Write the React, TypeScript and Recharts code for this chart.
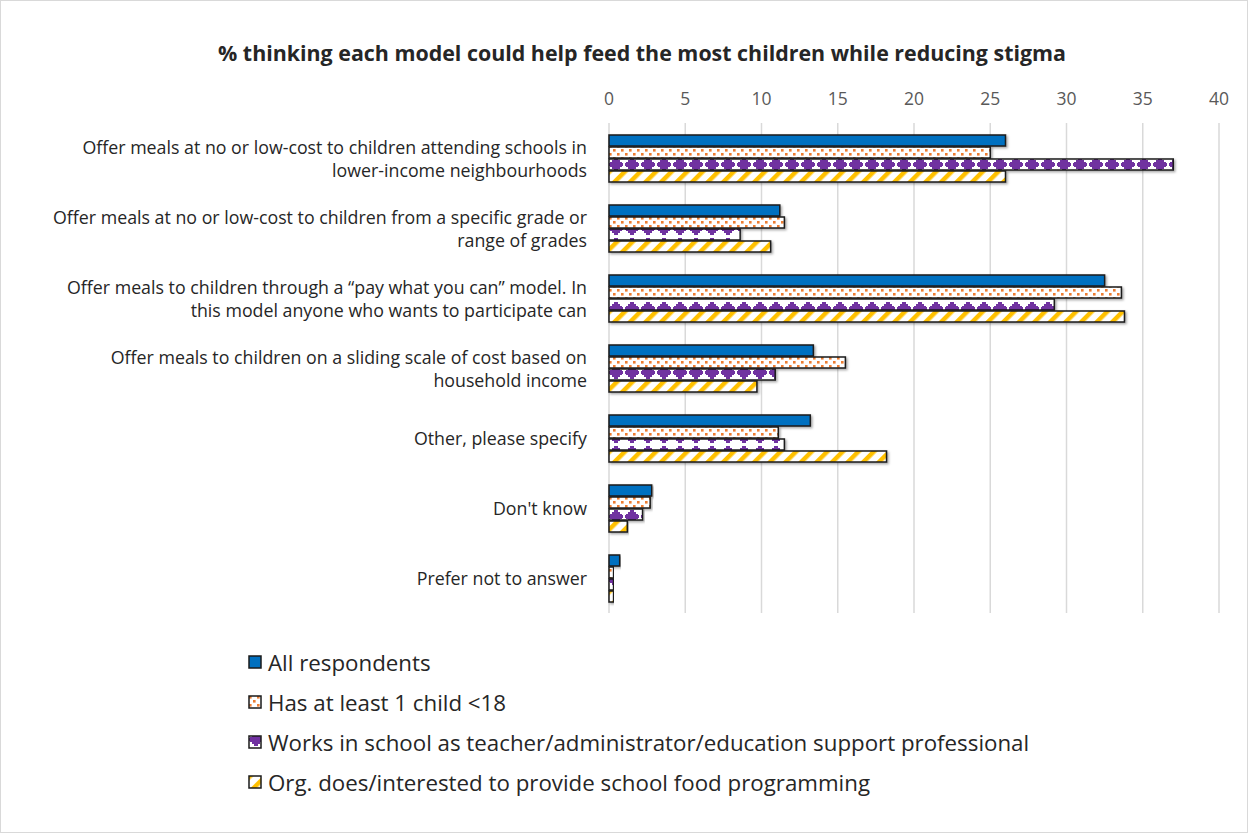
import React from 'react';
import { BarChart, Bar, XAxis, YAxis, CartesianGrid } from 'recharts';

const categoryLines: string[][] = [
  ['Offer meals at no or low-cost to children attending schools in', 'lower-income neighbourhoods'],
  ['Offer meals at no or low-cost to children from a specific grade or', 'range of grades'],
  ['Offer meals to children through a \u201cpay what you can\u201d model. In', 'this model anyone who wants to participate can'],
  ['Offer meals to children on a sliding scale of cost based on', 'household income'],
  ['Other, please specify'],
  ["Don't know"],
  ['Prefer not to answer'],
];

const allRespondents = [26.0, 11.2, 32.5, 13.4, 13.2, 2.8, 0.7];
const hasChild = [25.0, 11.5, 33.6, 15.5, 11.1, 2.7, 0.3];
const worksInSchool = [37.0, 8.6, 29.2, 10.9, 11.5, 2.2, 0.3];
const orgFood = [26.0, 10.6, 33.8, 9.7, 18.2, 1.2, 0.3];

const xTicks = [0, 5, 10, 15, 20, 25, 30, 35, 40];

const series = [
  { key: 'all', name: 'All respondents', fill: '#0070C0' },
  { key: 'child', name: 'Has at least 1 child <18', fill: 'url(#dots)' },
  { key: 'works', name: 'Works in school as teacher/administrator/education support professional', fill: 'url(#shingle)' },
  { key: 'org', name: 'Org. does/interested to provide school food programming', fill: 'url(#stripes)' },
];

const data = categoryLines.map((lines, i) => ({
  name: lines.join(' '),
  all: allRespondents[i],
  child: hasChild[i],
  works: worksInSchool[i],
  org: orgFood[i],
}));

const FONT = '"Open Sans", "Noto Sans", sans-serif';

const Patterns = () => (
  <svg width={0} height={0} style={{ position: 'absolute' }}>
    <defs>
      <pattern id="dots" width={8} height={8} patternUnits="userSpaceOnUse">
        <rect width={8} height={8} fill="#fff" />
        <rect x={1} y={1} width={2.6} height={2.6} fill="#ED7D31" />
        <rect x={5} y={5} width={2.6} height={2.6} fill="#ED7D31" />
      </pattern>
      {/* stepped diamonds, phased so the first group shows the upper halves */}
      <pattern id="shingle" x={0} y={12} width={16} height={16} patternUnits="userSpaceOnUse">
        <rect width={16} height={16} fill="#fff" />
        <polygon
          points="6,2 10,2 10,4 12,4 12,6 14,6 14,7 15,7 15,10 14,10 14,11 12,11 12,13 10,13 10,15 6,15 6,13 4,13 4,11 2,11 2,10 1,10 1,7 2,7 2,6 4,6 4,4 6,4"
          fill="#7030A0"
        />
      </pattern>
      <pattern id="stripes" width={11} height={11} patternUnits="userSpaceOnUse" patternTransform="rotate(45)">
        <rect width={11} height={11} fill="#fff" />
        <rect x={0} y={0} width={4.5} height={11} fill="#FFC000" />
      </pattern>
      <filter id="shadow" x="-5%" y="-30%" width="110%" height="170%">
        <feDropShadow dx={1.5} dy={1.5} stdDeviation={0.8} floodColor="#000" floodOpacity={0.35} />
      </filter>
    </defs>
  </svg>
);

const CategoryTick = ({ x, y, index }: any) => {
  const lines = categoryLines[index] || [];
  const start = -((lines.length - 1) * 23) / 2;
  return (
    <g>
      {lines.map((l, i) => (
        <text
          key={i}
          x={x - 2}
          y={y + start + i * 23}
          textAnchor="end"
          dominantBaseline="central"
          fontSize={17.8}
          fontFamily={FONT}
          fill="#262626"
        >
          {l}
        </text>
      ))}
    </g>
  );
};

export default function App() {
  return (
    <div
      style={{
        position: 'absolute',
        left: 0,
        top: 0,
        width: 1248,
        height: 833,
        background: '#fff',
        boxSizing: 'border-box',
        border: '1px solid #d9d9d9',
        fontFamily: FONT,
      }}
    >
      <Patterns />
      <div
        style={{
          position: 'absolute',
          top: 37,
          left: 0,
          width: 1282,
          textAlign: 'center',
          fontWeight: 700,
          fontSize: 21.4,
          color: '#262626',
        }}
      >
        % thinking each model could help feed the most children while reducing stigma
      </div>
      <div style={{ position: 'absolute', left: -1, top: -1 }}>
        <BarChart
          width={1248}
          height={833}
          data={data}
          layout="vertical"
          margin={{ top: 83, right: 29, bottom: 220, left: 0 }}
          barSize={11}
          barGap={1}
        >
          <CartesianGrid horizontal={false} stroke="#d9d9d9" strokeWidth={1.5} />
          <XAxis
            type="number"
            orientation="top"
            domain={[0, 40]}
            ticks={xTicks}
            height={40}
            axisLine={false}
            tickLine={false}
            tickMargin={12}
            tick={{ fontSize: 17.5, fill: '#595959', fontFamily: FONT }}
          />
          <YAxis
            type="category"
            dataKey="name"
            width={609}
            axisLine={false}
            tickLine={false}
            tickMargin={14}
            tick={<CategoryTick />}
            interval={0}
          />
          {series.map((s) => (
            <Bar
              key={s.key}
              dataKey={s.key}
              name={s.name}
              fill={s.fill}
              stroke="#1a1a1a"
              strokeWidth={1.5}
              filter="url(#shadow)"
              isAnimationActive={false}
            />
          ))}
        </BarChart>
      </div>
      <div style={{ position: 'absolute', left: 247, top: 641 }}>
        {series.map((s) => (
          <div key={s.key} style={{ display: 'flex', alignItems: 'center', height: 40, fontSize: 22.3, color: '#262626' }}>
            <svg width={14} height={14} style={{ marginRight: 6 }}>
              <rect x={1} y={1} width={12} height={12} fill={s.fill} stroke="#1a1a1a" strokeWidth={1.5} />
            </svg>
            <span>{s.name}</span>
          </div>
        ))}
      </div>
    </div>
  );
}
